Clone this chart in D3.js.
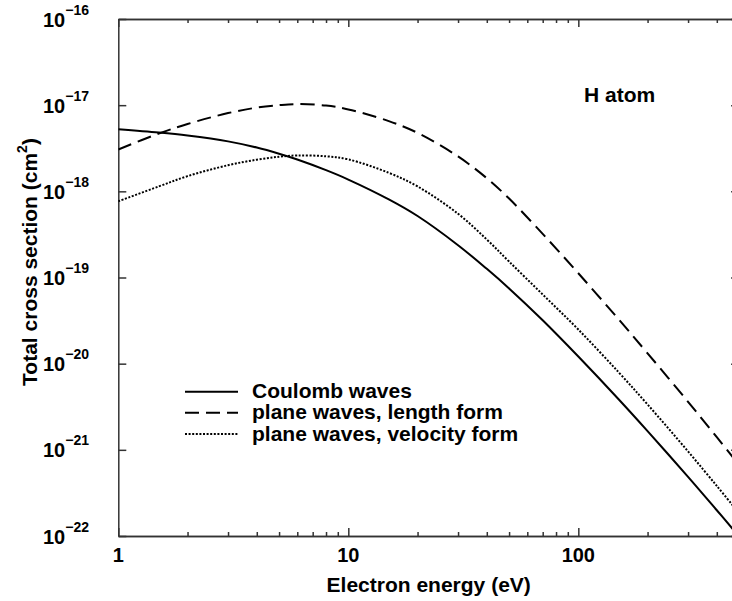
<!DOCTYPE html>
<html>
<head>
<meta charset="utf-8">
<title>H atom cross section</title>
<script src="https://cdnjs.cloudflare.com/ajax/libs/d3/7.8.5/d3.min.js"></script>
<style>
  body { margin: 0; background: #fff; }
  text { font-family: "Liberation Sans", Arial, Helvetica, sans-serif; font-weight: bold; fill: #000; }
  .frame line, .frame path { stroke: #333; stroke-width: 1.5px; }
</style>
</head>
<body>
<svg id="chart" width="732" height="601"></svg>
<script>
// electron energy (eV)
var energy = [1, 1.5, 2, 3, 4, 5, 6, 8, 10, 15, 20, 30, 40, 50, 70, 100, 150, 200, 300, 400, 470];
// total cross sections (cm^2)
var coulomb = [5.25e-18, 4.81e-18, 4.44e-18, 3.80e-18, 3.22e-18, 2.73e-18, 2.34e-18, 1.76e-18, 1.37e-18,
  8.06e-19, 5.17e-19, 2.37e-19, 1.26e-19, 7.47e-20, 3.19e-20, 1.21e-20, 3.84e-21, 1.65e-21, 4.86e-22, 1.99e-22, 1.20e-22];
var lengthForm = [3.06e-18, 4.69e-18, 6.05e-18, 8.09e-18, 9.37e-18, 1.00e-17, 1.03e-17, 9.89e-18, 8.93e-18,
  6.53e-18, 4.77e-18, 2.54e-18, 1.42e-18, 8.24e-19, 3.21e-19, 1.12e-19, 3.25e-20, 1.32e-20, 3.61e-21, 1.40e-21, 8.19e-22];
var velocityForm = [7.66e-19, 1.14e-18, 1.50e-18, 2.01e-18, 2.33e-18, 2.52e-18, 2.61e-18, 2.55e-18, 2.35e-18,
  1.64e-18, 1.14e-18, 5.49e-19, 2.76e-19, 1.53e-19, 6.35e-20, 2.49e-20, 7.90e-21, 3.36e-21, 9.57e-22, 3.81e-22, 2.25e-22];

var seriesNames = ["Coulomb waves", "plane waves, length form", "plane waves, velocity form"];
var dashes = [null, "14,7", "2,1.6"];

var xMajor = [1, 10, 100];
var xMinor = [2, 3, 4, 5, 6, 7, 8, 9, 20, 30, 40, 50, 60, 70, 80, 90, 200, 300, 400];
var yExp = [-22, -21, -20, -19, -18, -17, -16];

var svg = d3.select("#chart");
var pLeft = 118.3, pRight = 739.1, pTop = 19, pBottom = 536;

var x = d3.scaleLog().domain([1, 500]).range([pLeft, pRight]);
var y = d3.scaleLog().domain([1e-22, 1e-16]).range([pBottom, pTop]);

svg.append("defs").append("clipPath").attr("id", "clip")
  .append("rect").attr("x", pLeft).attr("y", pTop).attr("width", pRight - pLeft).attr("height", pBottom - pTop);

var frame = svg.append("g").attr("class", "frame");

// bottom and top axes with inward ticks
frame.append("g").attr("transform", "translate(0," + pBottom + ")")
  .call(d3.axisTop(x).tickValues(xMajor).tickSize(8).tickSizeOuter(0).tickFormat(""));
frame.append("g").attr("transform", "translate(0," + pBottom + ")")
  .call(d3.axisTop(x).tickValues(xMinor).tickSize(4).tickSizeOuter(0).tickFormat(""));
frame.append("g").attr("transform", "translate(0," + pTop + ")")
  .call(d3.axisBottom(x).tickValues(xMajor).tickSize(8).tickSizeOuter(0).tickFormat(""));
frame.append("g").attr("transform", "translate(0," + pTop + ")")
  .call(d3.axisBottom(x).tickValues(xMinor).tickSize(4).tickSizeOuter(0).tickFormat(""));

// left and right axes
var yTicks = yExp.map(function(e) { return Math.pow(10, e); });
frame.append("g").attr("transform", "translate(" + pLeft + ",0)")
  .call(d3.axisRight(y).tickValues(yTicks).tickSize(8).tickSizeOuter(0).tickFormat(""));
frame.append("g").attr("transform", "translate(" + pRight + ",0)")
  .call(d3.axisLeft(y).tickValues(yTicks).tickSize(8).tickSizeOuter(0).tickFormat(""));

// x tick labels
svg.selectAll(".xlab").data(xMajor).enter().append("text")
  .attr("class", "xlab")
  .attr("x", function(d) { return x(d); })
  .attr("y", 562)
  .attr("text-anchor", "middle")
  .style("font-size", "20px")
  .text(function(d) { return d; });

// y tick labels 10^n
var ylab = svg.selectAll(".ylab").data(yExp).enter().append("text")
  .attr("class", "ylab")
  .attr("x", 89)
  .attr("y", function(d) { return y(Math.pow(10, d)) + 7.5; })
  .attr("text-anchor", "end")
  .style("font-size", "20px");
ylab.append("tspan").text("10");
ylab.append("tspan").attr("dy", -12).style("font-size", "14px")
  .text(function(d) { return "\u2212" + Math.abs(d); });

// axis titles
svg.append("text")
  .attr("x", (pLeft + pRight) / 2).attr("y", 592)
  .attr("text-anchor", "middle")
  .style("font-size", "21px")
  .text("Electron energy (eV)");

var yt = svg.append("text")
  .attr("transform", "translate(37,262) rotate(-90)")
  .attr("text-anchor", "middle")
  .style("font-size", "21px");
yt.append("tspan").text("Total cross section (cm");
yt.append("tspan").attr("dy", -10).style("font-size", "14px").text("2");
yt.append("tspan").attr("dy", 10).text(")");

svg.append("text")
  .attr("x", 584).attr("y", 102)
  .style("font-size", "21px")
  .text("H atom");

// curves
var allSeries = [coulomb, lengthForm, velocityForm];
var line = d3.line()
  .x(function(d) { return x(d[0]); })
  .y(function(d) { return y(d[1]); })
  .curve(d3.curveCatmullRom.alpha(0.5));

var plot = svg.append("g").attr("clip-path", "url(#clip)");
allSeries.forEach(function(vals, i) {
  plot.append("path")
    .datum(energy.map(function(e, j) { return [e, vals[j]]; }))
    .attr("d", line)
    .attr("fill", "none")
    .attr("stroke", "#000")
    .attr("stroke-width", 2)
    .attr("stroke-dasharray", dashes[i]);
});

// legend
var legendY = [391.7, 412.7, 434];
var legend = svg.append("g");
seriesNames.forEach(function(name, i) {
  legend.append("line")
    .attr("x1", 185).attr("x2", 238)
    .attr("y1", legendY[i]).attr("y2", legendY[i])
    .attr("stroke", "#000").attr("stroke-width", 2)
    .attr("stroke-dasharray", dashes[i]);
  legend.append("text")
    .attr("x", 252).attr("y", legendY[i] + 6.5)
    .style("font-size", "21px")
    .text(name);
});
</script>
</body>
</html>
